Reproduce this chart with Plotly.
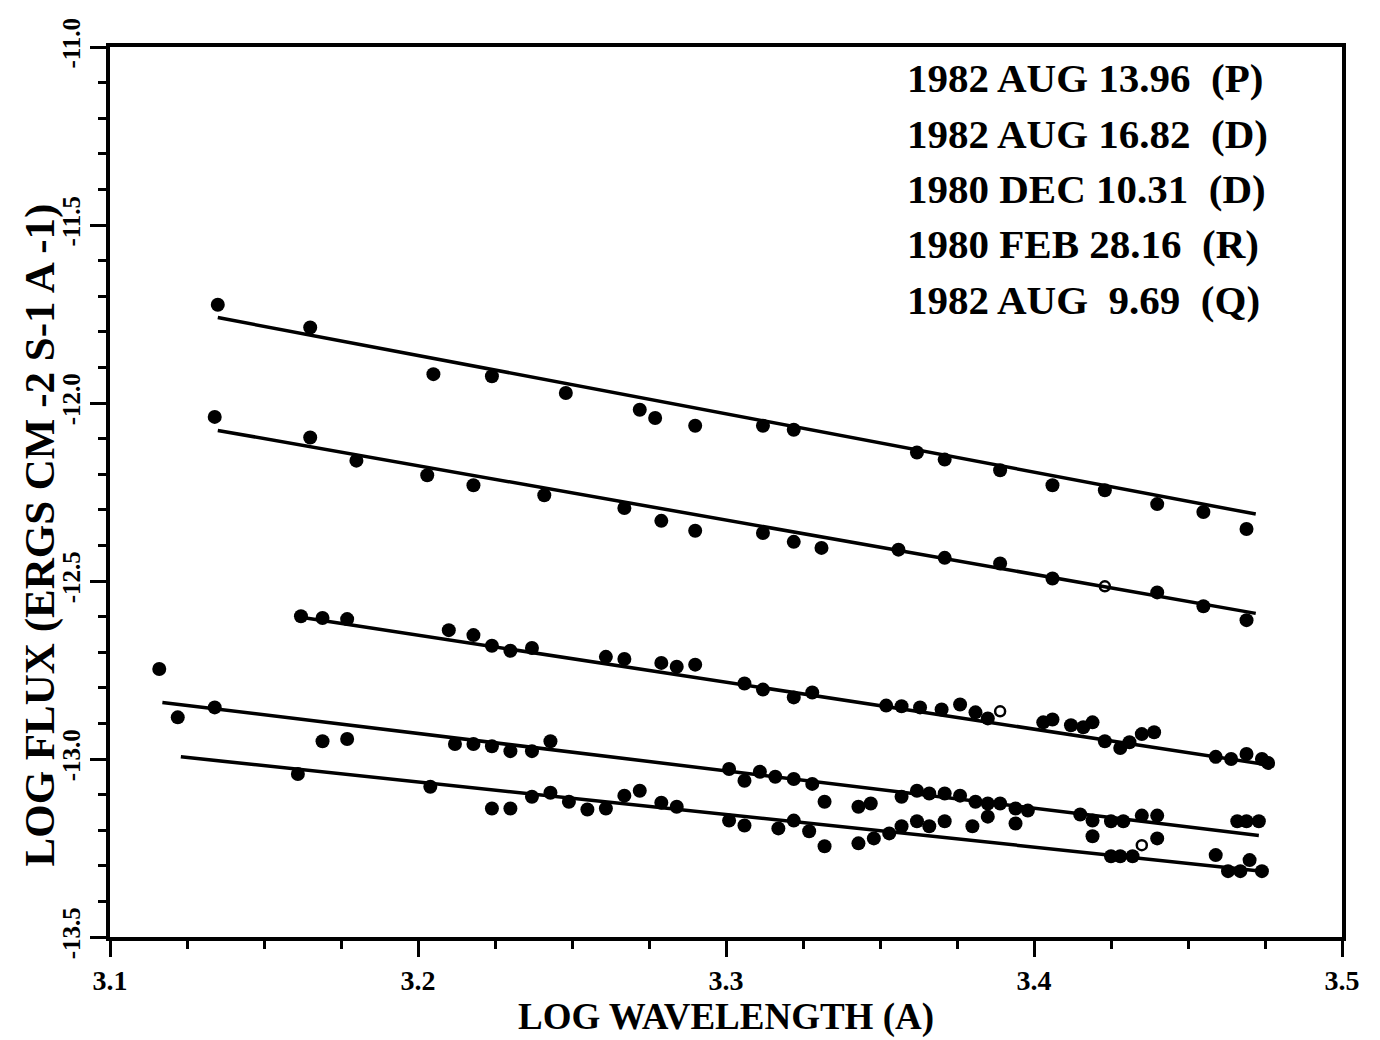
import plotly.graph_objects as go

# ---------------- data (log wavelength, log flux) ----------------
p_x = [3.135, 3.165, 3.205, 3.224, 3.248, 3.272, 3.277, 3.290, 3.312, 3.322,
       3.362, 3.371, 3.389, 3.406, 3.423, 3.440, 3.455, 3.469]
p_y = [-11.724, -11.788, -11.919, -11.925, -11.972, -12.019, -12.042, -12.064, -12.064, -12.075,
       -12.139, -12.159, -12.189, -12.231, -12.245, -12.284, -12.306, -12.354]
p_fit_x = [3.135, 3.472]
p_fit_y = [-11.760, -12.312]

d1_x = [3.134, 3.165, 3.180, 3.203, 3.218, 3.241, 3.267, 3.279, 3.290, 3.312,
        3.322, 3.331, 3.356, 3.371, 3.389, 3.406, 3.440, 3.455, 3.469]
d1_y = [-12.039, -12.097, -12.162, -12.203, -12.231, -12.259, -12.295, -12.331, -12.359, -12.365,
        -12.390, -12.407, -12.412, -12.435, -12.451, -12.493, -12.532, -12.571, -12.610]
d1_open_x = [3.423]
d1_open_y = [-12.515]
d1_fit_x = [3.135, 3.472]
d1_fit_y = [-12.077, -12.591]

d2_x = [3.162, 3.169, 3.177, 3.210, 3.218, 3.224, 3.230, 3.237, 3.261, 3.267,
        3.279, 3.284, 3.290, 3.306, 3.312, 3.322, 3.328, 3.352, 3.357, 3.363,
        3.370, 3.376, 3.381, 3.385, 3.403, 3.406, 3.412, 3.416, 3.419, 3.423,
        3.428, 3.431, 3.435, 3.439, 3.459, 3.464, 3.469, 3.474, 3.476]
d2_y = [-12.599, -12.604, -12.607, -12.638, -12.652, -12.682, -12.696, -12.688, -12.713, -12.719,
        -12.730, -12.741, -12.735, -12.788, -12.805, -12.827, -12.813, -12.850, -12.852, -12.855,
        -12.861, -12.847, -12.869, -12.886, -12.897, -12.889, -12.905, -12.911, -12.897, -12.950,
        -12.969, -12.953, -12.930, -12.925, -12.994, -13.000, -12.986, -13.000, -13.011]
d2_open_x = [3.389]
d2_open_y = [-12.866]
d2_fit_x = [3.162, 3.478]
d2_fit_y = [-12.602, -13.019]

r_x = [3.116, 3.122, 3.134, 3.169, 3.177, 3.212, 3.218, 3.224, 3.230, 3.237,
       3.243, 3.301, 3.306, 3.311, 3.316, 3.322, 3.328, 3.332, 3.343, 3.347,
       3.357, 3.362, 3.366, 3.371, 3.376, 3.381, 3.385, 3.385, 3.389, 3.394,
       3.398, 3.415, 3.419, 3.425, 3.429, 3.435, 3.440, 3.440, 3.466, 3.469, 3.473]
r_y = [-12.747, -12.883, -12.855, -12.950, -12.944, -12.958, -12.958, -12.964, -12.978, -12.978,
       -12.950, -13.028, -13.061, -13.036, -13.050, -13.056, -13.070, -13.120, -13.134, -13.125,
       -13.106, -13.089, -13.097, -13.097, -13.103, -13.120, -13.125, -13.162, -13.125, -13.139,
       -13.145, -13.156, -13.173, -13.175, -13.175, -13.159, -13.159, -13.223, -13.175, -13.175, -13.175]
r_fit_x = [3.117, 3.473]
r_fit_y = [-12.841, -13.215]

q_x = [3.161, 3.204, 3.224, 3.230, 3.237, 3.243, 3.249, 3.255, 3.261, 3.267,
       3.272, 3.279, 3.284, 3.301, 3.306, 3.317, 3.322, 3.327, 3.332, 3.343,
       3.348, 3.353, 3.357, 3.362, 3.366, 3.371, 3.380, 3.394, 3.419, 3.425,
       3.428, 3.432, 3.459, 3.463, 3.467, 3.470, 3.474]
q_y = [-13.042, -13.078, -13.139, -13.139, -13.106, -13.095, -13.120, -13.142, -13.139, -13.103,
       -13.089, -13.123, -13.134, -13.173, -13.187, -13.195, -13.173, -13.203, -13.245, -13.237,
       -13.223, -13.209, -13.189, -13.175, -13.189, -13.175, -13.189, -13.181, -13.217, -13.273,
       -13.273, -13.273, -13.270, -13.315, -13.315, -13.284, -13.315]
q_open_x = [3.435]
q_open_y = [-13.242]
q_fit_x = [3.123, 3.474]
q_fit_y = [-12.994, -13.315]

legend_lines = [
    "1982 AUG 13.96\u00a0\u00a0(P)",
    "1982 AUG 16.82\u00a0\u00a0(D)",
    "1980 DEC 10.31\u00a0\u00a0(D)",
    "1980 FEB 28.16\u00a0\u00a0(R)",
    "1982 AUG\u00a0\u00a09.69\u00a0\u00a0(Q)",
]

x_tickvals = [3.1, 3.2, 3.3, 3.4, 3.5]
x_ticktext = ["3.1", "3.2", "3.3", "3.4", "3.5"]
y_tickvals = [-11.0, -11.5, -12.0, -12.5, -13.0, -13.5]
y_ticktext = ["-11.0", "-11.5", "-12.0", "-12.5", "-13.0", "-13.5"]

x_title = "LOG WAVELENGTH (A)"
y_title = "LOG FLUX (ERGS CM -2 S-1 A -1)"

# ---------------- figure ----------------
FONT = "Liberation Serif"
fig = go.Figure()

filled = [(p_x, p_y), (d1_x, d1_y), (d2_x, d2_y), (r_x, r_y), (q_x, q_y)]
opens = [(d1_open_x, d1_open_y), (d2_open_x, d2_open_y), (q_open_x, q_open_y)]
fits = [(p_fit_x, p_fit_y), (d1_fit_x, d1_fit_y), (d2_fit_x, d2_fit_y),
        (r_fit_x, r_fit_y), (q_fit_x, q_fit_y)]

for fx, fy in fits:
    fig.add_trace(go.Scatter(x=fx, y=fy, mode="lines",
                             line=dict(color="black", width=3.5),
                             showlegend=False, hoverinfo="skip"))
for px_, py_ in filled:
    fig.add_trace(go.Scatter(x=px_, y=py_, mode="markers",
                             marker=dict(symbol="circle", size=14, color="black"),
                             showlegend=False))
for ox, oy in opens:
    fig.add_trace(go.Scatter(x=ox, y=oy, mode="markers",
                             marker=dict(symbol="circle-open", size=10, color="black",
                                         line=dict(width=2.5, color="black")),
                             showlegend=False))

leg_y = [0.9655, 0.902, 0.8408, 0.7784, 0.716]
for txt, yy in zip(legend_lines, leg_y):
    fig.add_annotation(text=txt, xref="paper", yref="paper", x=0.645, y=yy,
                       xanchor="left", yanchor="middle", showarrow=False,
                       font=dict(family=FONT, size=41, color="black", weight="bold"))

fig.add_annotation(text=y_title, xref="paper", yref="paper", x=-0.057, y=0.452,
                   xanchor="center", yanchor="middle", textangle=-90, showarrow=False,
                   font=dict(family=FONT, size=43, color="black", weight="bold"))

fig.update_layout(
    width=1380, height=1040,
    margin=dict(l=110, r=38, t=47, b=95),
    paper_bgcolor="white", plot_bgcolor="white",
    showlegend=False,
    xaxis=dict(
        range=[3.1, 3.5], tickvals=x_tickvals, ticktext=x_ticktext,
        showgrid=False, zeroline=False,
        showline=True, linecolor="black", linewidth=3.5, mirror=True,
        ticks="outside", ticklen=16, tickwidth=2.5, tickcolor="black",
        minor=dict(tickvals=[3.1 + 0.025 * i for i in range(17)], ticks="outside",
                   ticklen=8, tickwidth=2.5, tickcolor="black", showgrid=False),
        tickfont=dict(family=FONT, size=28, color="black", weight="bold"),
        title=dict(text=x_title, standoff=6,
                   font=dict(family=FONT, size=37, color="black", weight="bold")),
    ),
    yaxis=dict(
        range=[-13.5, -11.0], tickvals=y_tickvals, ticktext=y_ticktext,
        showgrid=False, zeroline=False,
        showline=True, linecolor="black", linewidth=3.5, mirror=True,
        ticks="outside", ticklen=16, tickwidth=2.5, tickcolor="black",
        minor=dict(dtick=0.1, ticks="outside", ticklen=8, tickwidth=2.5,
                   tickcolor="black", showgrid=False),
        tickangle=-90,
        tickfont=dict(family=FONT, size=25, color="black", weight="bold"),
    ),
)

fig.write_html("out.html")
